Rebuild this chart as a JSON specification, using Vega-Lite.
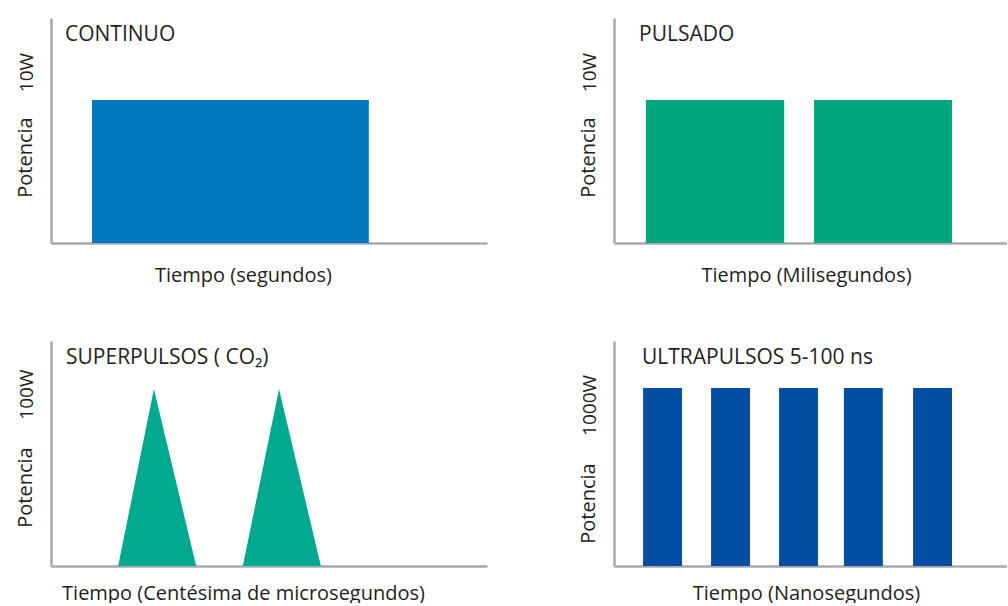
{
  "$schema": "https://vega.github.io/schema/vega-lite/v6.json",
  "padding": {"left": 15, "top": 18, "right": 0, "bottom": 0},
  "background": "white",
  "config": {
    "font": "Open Sans",
    "view": {"stroke": null},
    "axis": {
      "domainColor": "#a7a9ac", "domainWidth": 2.5, "ticks": false, "tickSize": 0, "grid": false,
      "titleFontWeight": "normal", "titleColor": "#231f20", "labelColor": "#231f20",
      "titleFont": "Open Sans", "labelFont": "Open Sans"
    },
    "axisX": {"labels": false, "titleX": 192, "titleY": 38, "titleAlign": "center", "titleBaseline": "alphabetic", "titleFontSize": 20},
    "axisY": {"labelAngle": 270, "labelAlign": "center", "labelBaseline": "alphabetic", "labelPadding": 19, "labelFontSize": 19,
      "titleX": -20, "titleAngle": 270, "titleAlign": "center", "titleBaseline": "alphabetic", "titleFontSize": 20, "labelOverlap": false, "labelFlush": false},
    "title": {"anchor": "start", "frame": "group", "offset": -27, "baseline": "alphabetic", "fontSize": 21, "fontWeight": "normal", "color": "#231f20", "font": "Open Sans"}
  },
  "datasets": {
    "continuo": [{"inicio": 9.4, "fin": 72.9, "potencia": 63.6}],
    "pulsado": [{"inicio": 8.1, "fin": 43.3, "potencia": 63.6}, {"inicio": 50.9, "fin": 86.0, "potencia": 63.6}],
    "superpulsos": [
      {"pulso": 1, "tiempo": 15.4, "potencia": 0}, {"pulso": 1, "tiempo": 23.6, "potencia": 78.7}, {"pulso": 1, "tiempo": 33.3, "potencia": 0},
      {"pulso": 2, "tiempo": 44.0, "potencia": 0}, {"pulso": 2, "tiempo": 52.3, "potencia": 78.7}, {"pulso": 2, "tiempo": 61.9, "potencia": 0}
    ],
    "ultrapulsos": [
      {"inicio": 7.4, "fin": 17.3, "potencia": 79.1},
      {"inicio": 24.7, "fin": 34.6, "potencia": 79.1},
      {"inicio": 42.0, "fin": 51.9, "potencia": 79.1},
      {"inicio": 58.5, "fin": 68.4, "potencia": 79.1},
      {"inicio": 76.1, "fin": 86.0, "potencia": 79.1}
    ]
  },
  "columns": 2,
  "spacing": {"row": 56, "column": 91},
  "concat": [
    {
      "width": 436, "height": 225,
      "title": {"text": "CONTINUO", "dx": 14},
      "data": {"name": "continuo"},
      "mark": {"type": "rect", "color": "#0079c1"},
      "encoding": {
        "x": {"field": "inicio", "type": "quantitative", "scale": {"domain": [0, 100], "nice": false}, "axis": {"title": "Tiempo (segundos)"}},
        "x2": {"field": "fin"},
        "y": {"field": "potencia", "type": "quantitative", "scale": {"domain": [0, 100], "nice": false}, "axis": {"title": "Potencia", "values": [76], "labelExpr": "'10W'", "titleY": 139}},
        "y2": {"datum": 0}
      }
    },
    {
      "width": 393, "height": 225,
      "title": {"text": "PULSADO", "dx": 25},
      "data": {"name": "pulsado"},
      "mark": {"type": "rect", "color": "#00a67e"},
      "encoding": {
        "x": {"field": "inicio", "type": "quantitative", "scale": {"domain": [0, 100], "nice": false}, "axis": {"title": "Tiempo (Milisegundos)"}},
        "x2": {"field": "fin"},
        "y": {"field": "potencia", "type": "quantitative", "scale": {"domain": [0, 100], "nice": false}, "axis": {"title": "Potencia", "values": [76], "labelExpr": "'10W'", "titleY": 139}},
        "y2": {"datum": 0}
      }
    },
    {
      "width": 436, "height": 225,
      "title": {"text": "SUPERPULSOS ( CO₂)", "dx": 15},
      "data": {"name": "superpulsos"},
      "mark": {"type": "area", "color": "#00a98f", "opacity": 1},
      "encoding": {
        "x": {"field": "tiempo", "type": "quantitative", "scale": {"domain": [0, 100], "nice": false}, "axis": {"title": "Tiempo (Centésima de microsegundos)", "titleY": 33}},
        "y": {"field": "potencia", "type": "quantitative", "scale": {"domain": [0, 100], "nice": false}, "axis": {"title": "Potencia", "values": [76.4], "labelExpr": "'100W'", "titleY": 146}},
        "detail": {"field": "pulso", "type": "nominal"}
      }
    },
    {
      "width": 393, "height": 225,
      "title": {"text": "ULTRAPULSOS 5-100 ns", "dx": 28},
      "data": {"name": "ultrapulsos"},
      "mark": {"type": "rect", "color": "#034ea2"},
      "encoding": {
        "x": {"field": "inicio", "type": "quantitative", "scale": {"domain": [0, 100], "nice": false}, "axis": {"title": "Tiempo (Nanosegundos)", "titleY": 33}},
        "x2": {"field": "fin"},
        "y": {"field": "potencia", "type": "quantitative", "scale": {"domain": [0, 100], "nice": false}, "axis": {"title": "Potencia", "values": [71.6], "labelExpr": "'1000W'", "titleY": 162}},
        "y2": {"datum": 0}
      }
    }
  ]
}
